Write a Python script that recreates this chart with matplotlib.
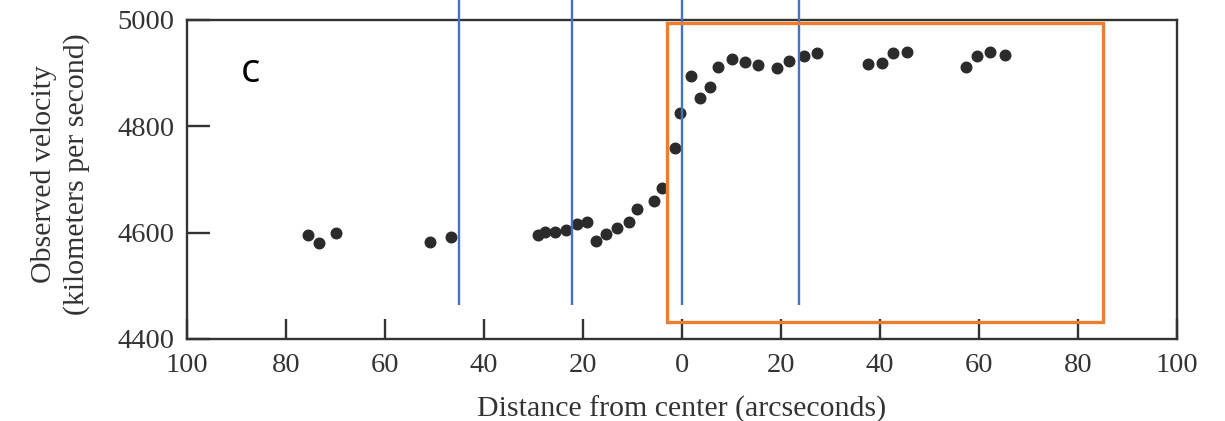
import matplotlib
matplotlib.use("Agg")
import matplotlib.pyplot as plt
from matplotlib.ticker import FuncFormatter
from matplotlib.patches import Rectangle

# Data (negative = one side of the center)
distance = [-75.5, -73.3, -70.0, -50.9, -46.6,
            -29.1, -27.7, -25.7, -23.5, -21.2, -19.2, -17.3, -15.4, -13.1,
            -10.7, -9.0, -5.7, -4.0, -1.4, -0.4, 1.8, 3.6, 5.7, 7.3, 10.1,
            12.8, 15.3, 19.3, 21.7, 24.7, 27.2, 37.5, 40.4, 42.7, 45.4,
            57.3, 59.7, 62.3, 65.2]
velocity = [4595, 4580, 4599, 4582, 4591,
            4595, 4601, 4601, 4604, 4617, 4620, 4584, 4598, 4608,
            4620, 4645, 4659, 4683, 4759, 4825, 4894, 4854, 4874, 4912, 4926,
            4921, 4916, 4909, 4923, 4932, 4937, 4918, 4920, 4938, 4940,
            4912, 4932, 4939, 4934]

x_ticks = [-100, -80, -60, -40, -20, 0, 20, 40, 60, 80, 100]
y_ticks = [4400, 4600, 4800, 5000]
marker_lines = [-45.0, -22.3, 0.0, 23.6]
box_x = [-3.1, 85.1]
box_y = [4432, 4994]

serif = ["Liberation Serif", "DejaVu Serif"]
txt_col = "#333333"

fig = plt.figure(figsize=(12.25, 4.21), dpi=100)
ax = fig.add_axes([0.1527, 0.195, 0.808, 0.7575])

ax.plot(distance, velocity, "o", color="#2b2b2b", markersize=7.6, zorder=3)

ax.set_xlim(-100, 100)
ax.set_ylim(4400, 5000)
ax.set_xticks(x_ticks)
ax.set_yticks(y_ticks)
ax.xaxis.set_major_formatter(FuncFormatter(lambda v, p: f"{abs(int(round(v)))}"))

for s in ax.spines.values():
    s.set_linewidth(1.7)
    s.set_color("#333333")

ax.tick_params(axis="x", direction="in", length=14.5, width=1.7, color="#333333",
               pad=10.5, labelsize=20.5, labelcolor=txt_col)
ax.tick_params(axis="y", direction="in", length=16.5, width=1.7, color="#333333",
               pad=9, labelsize=20.5, labelcolor=txt_col)
for lab in ax.get_xticklabels() + ax.get_yticklabels():
    lab.set_family(serif)

ax.set_xlabel("Distance from center (arcseconds)", family=serif, fontsize=21.5,
              color=txt_col)
ax.xaxis.set_label_coords(0.5, -0.178)
ax.set_ylabel("Observed velocity\n(kilometers per second)", family=serif,
              fontsize=21.5, color=txt_col, linespacing=1.3)
ax.yaxis.set_label_coords(-0.098, 0.518)

# annotations
ax.vlines(marker_lines, 4464, 5045, colors="#4472C4", linewidth=1.7,
          clip_on=False, zorder=4)
ax.add_patch(Rectangle((box_x[0], box_y[0]), box_x[1] - box_x[0],
                       box_y[1] - box_y[0], fill=False, edgecolor="#ED7D31",
                       linewidth=2.4, zorder=5))
ax.text(-87.3, 4903, "c", family=["Open Sans", "DejaVu Sans"], fontsize=29,
        color="black", ha="center", va="center")

fig.savefig("out.png", dpi=100, facecolor="white")
